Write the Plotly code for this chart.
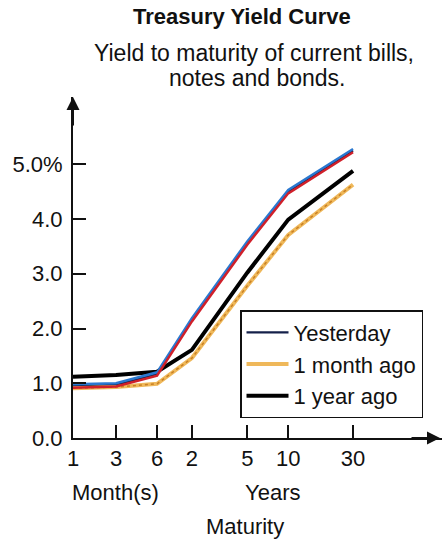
import plotly.graph_objects as go

# ---- data ----
maturity_labels = ["1", "3", "6", "2", "5", "10", "30"]
# custom (uneven) maturity scale used by the chart's x axis
maturity_scale = [0, 1.05, 2.05, 2.9, 4.25, 5.25, 6.83]
yesterday = [0.95, 0.97, 1.17, 2.16, 3.56, 4.50, 5.25]
month_ago = [0.91, 0.93, 0.99, 1.46, 2.78, 3.71, 4.63]
year_ago = [1.12, 1.15, 1.21, 1.61, 3.02, 3.99, 4.88]
y_tick_vals = [0, 1, 2, 3, 4, 5]
y_tick_text = ["0.0", "1.0", "2.0", "3.0", "4.0", "5.0%"]

FONT = "Liberation Sans, Arial, Helvetica, sans-serif"
YMAX = 6.23
XMAX = 9.0
SHIFT = 0.03

fig = go.Figure()

# Yesterday: double line (red underneath, blue on top, dark core)
fig.add_trace(go.Scatter(x=maturity_scale, y=yesterday, mode="lines",
                         line=dict(color="#d0202a", width=2.5), yaxis="y3",
                         showlegend=False, hoverinfo="skip"))
fig.add_trace(go.Scatter(x=maturity_scale, y=yesterday, mode="lines",
                         line=dict(color="#2a78d0", width=2.5), yaxis="y2",
                         showlegend=False, hoverinfo="skip"))
fig.add_trace(go.Scatter(x=maturity_scale, y=yesterday, mode="lines", name="Yesterday",
                         line=dict(color="#14204a", width=2.2), legendgroup="a"))

# 1 month ago: orange hatched
fig.add_trace(go.Scatter(x=maturity_scale, y=month_ago, mode="lines", name="1 month ago",
                         line=dict(color="#efb85a", width=4), legendgroup="b"))
fig.add_trace(go.Scatter(x=maturity_scale, y=month_ago, mode="lines",
                         line=dict(color="#c98025", width=1.5, dash="dot"),
                         showlegend=False, hoverinfo="skip"))

# 1 year ago: black
fig.add_trace(go.Scatter(x=maturity_scale, y=year_ago, mode="lines", name="1 year ago",
                         line=dict(color="#000000", width=4), legendgroup="c"))

axis_common = dict(showgrid=False, zeroline=False)
fig.update_layout(
    width=442, height=541,
    margin=dict(l=73, r=0, t=97, b=103),
    paper_bgcolor="white", plot_bgcolor="white",
    font=dict(family=FONT, color="#111111", size=21),
    xaxis=dict(range=[0, XMAX], tickvals=maturity_scale, ticktext=maturity_labels,
               ticks="inside", ticklen=13, tickwidth=1.5, tickcolor="#111",
               showline=True, linecolor="#111", linewidth=2,
               tickfont=dict(size=22), **axis_common),
    yaxis=dict(range=[0, YMAX], tickvals=y_tick_vals, ticktext=y_tick_text,
               ticks="inside", ticklen=13, tickwidth=1.5, tickcolor="#111",
               showline=True, linecolor="#111", linewidth=2,
               tickfont=dict(size=22), ticklabelstandoff=4, **axis_common),
    yaxis2=dict(range=[-SHIFT, YMAX - SHIFT], overlaying="y", visible=False, **axis_common),
    yaxis3=dict(range=[SHIFT, YMAX + SHIFT], overlaying="y", visible=False, **axis_common),
    legend=dict(x=0.4526, y=0.375, xanchor="left", yanchor="top",
                bordercolor="#111", borderwidth=1.5, bgcolor="white",
                font=dict(size=22), tracegroupgap=0, itemwidth=42,
                entrywidth=150, entrywidthmode="pixels"),
    showlegend=True,
)

def py(px):
    return (438 - px) / 341

def pxx(px):
    return (px - 73) / 369

annots = [
    dict(text="<b>Treasury Yield Curve</b>", x=pxx(242), y=py(16), font=dict(size=22)),
    dict(text="Yield to maturity of current bills,", x=pxx(254), y=py(53), font=dict(size=23)),
    dict(text="notes and bonds.", x=pxx(257), y=py(78), font=dict(size=23)),
    dict(text="Month(s)", x=pxx(115), y=py(492), font=dict(size=22)),
    dict(text="Years", x=pxx(272), y=py(492), font=dict(size=22)),
    dict(text="Maturity", x=pxx(245), y=py(526), font=dict(size=22)),
]
for a in annots:
    fig.add_annotation(xref="paper", yref="paper", showarrow=False,
                       xanchor="center", yanchor="middle", **a)

# axis arrowheads
fig.add_annotation(xref="paper", yref="paper", x=0, y=1, ax=0, ay=30, text="",
                   showarrow=True, arrowhead=2, arrowsize=1.3, arrowwidth=2, arrowcolor="#111")
fig.add_annotation(xref="paper", yref="paper", x=pxx(440), y=0, ax=-30, ay=0, text="",
                   showarrow=True, arrowhead=2, arrowsize=1.3, arrowwidth=2, arrowcolor="#111")

fig.write_html("out.html", config={"displayModeBar": False},
               post_script="document.body.style.margin='0';")
